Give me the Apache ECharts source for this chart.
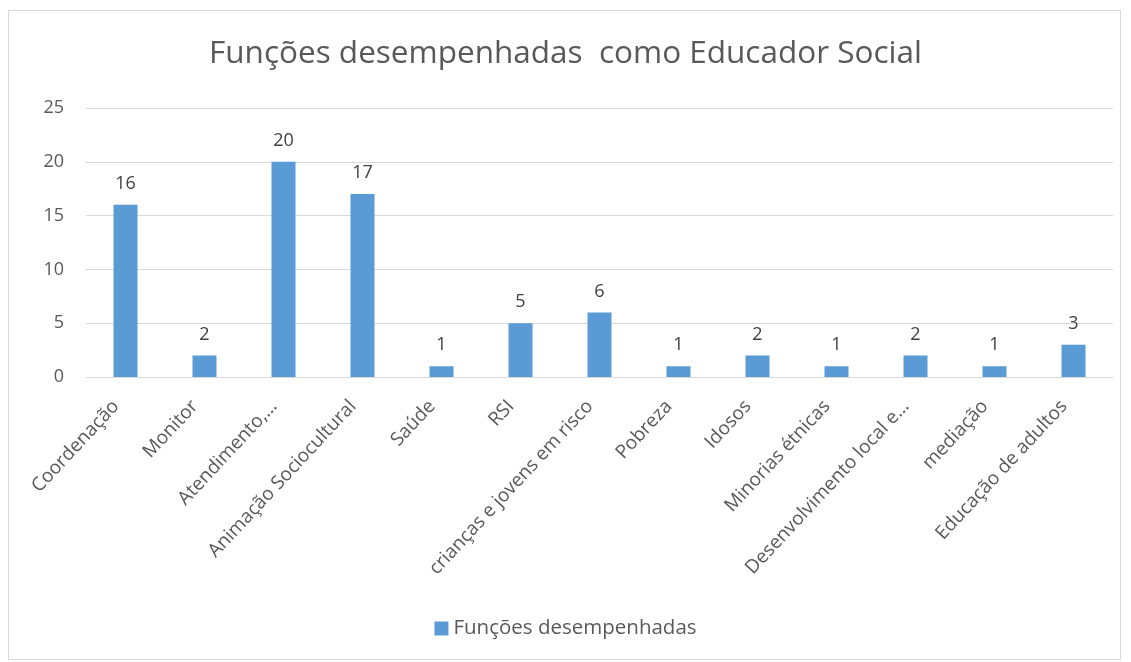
<!DOCTYPE html>
<html>
<head>
<meta charset="utf-8">
<script src="https://cdn.jsdelivr.net/npm/echarts@6/dist/echarts.min.js"></script>
<style>
  html, body { margin: 0; padding: 0; background: #fff; }
  #frame { position: absolute; left: 8px; top: 10px; width: 1113px; height: 650px; border: 1px solid #d9d9d9; box-sizing: border-box; }
  #chart { position: absolute; left: 0; top: 0; width: 1131px; height: 662px; }
</style>
</head>
<body>
<div id="frame"></div>
<div id="chart"></div>
<script>
const categories = ['Coordenação', 'Monitor', 'Atendimento,…', 'Animação Sociocultural', 'Saúde', 'RSI',
  'crianças e jovens em risco', 'Pobreza', 'Idosos', 'Minorias étnicas', 'Desenvolvimento local e…',
  'mediação', 'Educação de adultos']
const values = [16, 2, 20, 17, 1, 5, 6, 1, 2, 1, 2, 1, 3]
const seriesName = 'Funções desempenhadas'
const titleText = 'Funções desempenhadas  como Educador Social'

const font = '"Open Sans", sans-serif'
let myChart = echarts.init(document.getElementById('chart'))
myChart.setOption({
  backgroundColor: 'transparent',
  animation: false,
  textStyle: { fontFamily: font },
  title: {
    text: titleText,
    left: 'center',
    top: 33,
    textStyle: { color: '#595959', fontSize: 31.5, fontWeight: 'normal', fontFamily: font }
  },
  grid: { left: 86, right: 18, top: 108, bottom: 285 },
  legend: {
    data: [seriesName],
    bottom: 18,
    left: 'center',
    itemWidth: 14,
    itemHeight: 14,
    itemGap: 8,
    icon: 'rect',
    textStyle: { color: '#595959', fontSize: 20.5, fontFamily: font }
  },
  xAxis: {
    type: 'category',
    data: categories,
    axisTick: { show: false },
    axisLine: { lineStyle: { color: '#d9d9d9', width: 1 } },
    axisLabel: { rotate: 47, interval: 0, color: '#595959', fontSize: 19, margin: 16, padding: [0, 14, 0, 0] }
  },
  yAxis: {
    type: 'value',
    min: 0,
    max: 25,
    interval: 5,
    axisLine: { show: false },
    axisTick: { show: false },
    splitLine: { lineStyle: { color: '#d9d9d9', width: 1 } },
    axisLabel: { color: '#595959', fontSize: 18, margin: 22 }
  },
  series: [{
    name: seriesName,
    type: 'bar',
    data: values,
    barWidth: 24,
    itemStyle: { color: '#5b9bd5' },
    label: { show: true, position: 'top', distance: 12, color: '#404040', fontSize: 18 }
  }]
})
</script>
</body>
</html>
